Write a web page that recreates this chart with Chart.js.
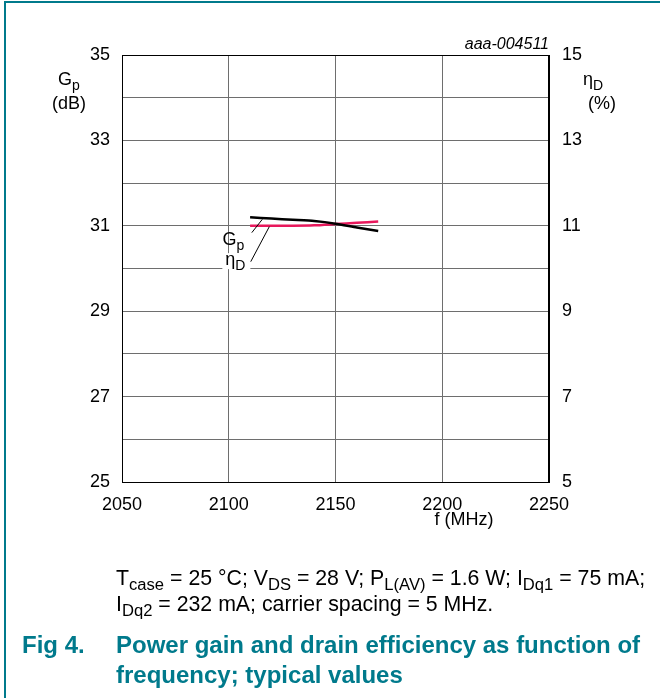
<!DOCTYPE html>
<html>
<head>
<meta charset="utf-8">
<script src="https://cdn.jsdelivr.net/npm/chart.js@4/dist/chart.umd.min.js"></script>
<style>
  body { margin: 0; background: #fff; font-family: 'Liberation Sans', Arial, sans-serif; }
  #wrap { position: relative; width: 660px; height: 698px; overflow: hidden; }
  #frame { position: absolute; left: 4px; top: 1px; width: 700px; height: 700px;
           border-left: 2px solid #007a8c; border-top: 2px solid #007a8c; }
  canvas { position: absolute; left: 0; top: 0; }
  .cap { position: absolute; left: 116px; font-size: 21.3px; line-height: 26px; color: #000; white-space: nowrap; }
  .cap sub { font-size: 0.78em; vertical-align: baseline; position: relative; top: 0.3em; line-height: 0; }
  .fig { position: absolute; font-size: 24px; line-height: 30px; font-weight: bold; color: #007a8c; white-space: nowrap; }
</style>
</head>
<body>
<div id="wrap">
  <div id="frame"></div>
  <canvas id="chart" width="660" height="698"></canvas>
  <div class="cap" style="top:565px">T<sub>case</sub> = 25 °C; V<sub>DS</sub> = 28 V; P<sub>L(AV)</sub> = 1.6 W; I<sub>Dq1</sub> = 75 mA;<br>I<sub>Dq2</sub> = 232 mA; carrier spacing = 5 MHz.</div>
  <div class="fig" style="left:22px; top:630px">Fig 4.</div>
  <div class="fig" style="left:116px; top:630px">Power gain and drain efficiency as function of<br>frequency; typical values</div>
</div>
<script>
// frequency (MHz)
const freq = [2110, 2120, 2130, 2140, 2150, 2160, 2170];
// power gain Gp (dB), left axis
const gainDb = [31.2, 31.17, 31.14, 31.11, 31.05, 30.96, 30.88];
// drain efficiency ηD (%), right axis
const drainEff = [11.0, 11.0, 11.0, 11.01, 11.04, 11.07, 11.1];

const xTicks = [2050, 2100, 2150, 2200, 2250];
const gainTicks = [25, 27, 29, 31, 33, 35];
const effTicks = [5, 7, 9, 11, 13, 15];

const FONT = "'Liberation Sans', Arial, sans-serif";

// draw text pieces, some as subscripts; pieces = [[text, isSub], ...]
function drawSub(ctx, pieces, x, y, size, align) {
  const subSize = Math.round(size * 0.78);
  let total = 0;
  pieces.forEach(p => {
    ctx.font = (p[1] ? subSize : size) + 'px ' + FONT;
    total += ctx.measureText(p[0]).width;
  });
  let cx = x;
  if (align === 'center') cx = x - total / 2;
  if (align === 'right') cx = x - total;
  ctx.textAlign = 'left';
  ctx.textBaseline = 'alphabetic';
  pieces.forEach(p => {
    ctx.font = (p[1] ? subSize : size) + 'px ' + FONT;
    ctx.fillText(p[0], cx, p[1] ? y + size * 0.28 : y);
    cx += ctx.measureText(p[0]).width;
  });
  return total;
}

const extras = {
  id: 'extras',
  afterDraw(chart) {
    const ctx = chart.ctx;
    const a = chart.chartArea;
    const xs = chart.scales.x, ys = chart.scales.y;
    const px = v => xs.getPixelForValue(v);
    const py = v => ys.getPixelForValue(v);
    ctx.save();
    // plot frame
    ctx.strokeStyle = '#000';
    ctx.lineWidth = 1;
    ctx.strokeRect(a.left + 0.5, a.top + 0.5, a.right - a.left - 1, a.bottom - a.top);

    ctx.fillStyle = '#000';
    // axis titles
    drawSub(ctx, [['G', false], ['p', true]], 69, 85, 18, 'center');
    drawSub(ctx, [['(dB)', false]], 69, 109, 18, 'center');
    drawSub(ctx, [['η', false], ['D', true]], 593, 85, 18, 'center');
    drawSub(ctx, [['(%)', false]], 602, 109, 18, 'center');
    drawSub(ctx, [['f (MHz)', false]], 464, 525, 18, 'center');
    ctx.font = 'italic 16px ' + FONT;
    ctx.textAlign = 'right';
    ctx.fillText('aaa-004511', a.right, 49);

    // curve labels with leader lines
    ctx.fillStyle = '#fff';
    ctx.fillRect(px(2097), py(30.36), 28, 16);
    ctx.strokeStyle = '#000';
    ctx.lineWidth = 1;
    ctx.beginPath();
    ctx.moveTo(px(2115.7), py(31.15)); ctx.lineTo(px(2110.8), py(30.84));
    ctx.moveTo(px(2119), py(30.98)); ctx.lineTo(px(2110.3), py(30.16));
    ctx.stroke();
    ctx.fillStyle = '#000';
    drawSub(ctx, [['G', false], ['p', true]], px(2097.1), py(30.55), 18, 'left');
    drawSub(ctx, [['η', false], ['D', true]], px(2098.4), py(30.08), 18, 'left');
    ctx.restore();
  }
};

new Chart(document.getElementById('chart'), {
  type: 'line',
  data: {
    datasets: [{
      label: 'Gp',
      data: freq.map((f, i) => ({ x: f, y: gainDb[i] })),
      borderColor: '#000',
      borderWidth: 2.5,
      pointRadius: 0,
      tension: 0.2,
      yAxisID: 'y'
    }, {
      label: 'ηD',
      data: freq.map((f, i) => ({ x: f, y: drainEff[i] })),
      borderColor: '#e8185c',
      borderWidth: 2.5,
      pointRadius: 0,
      tension: 0.2,
      yAxisID: 'y2'
    }]
  },
  options: {
    responsive: false,
    animation: false,
    devicePixelRatio: 1,
    layout: { padding: { top: 55, left: 0, right: 0, bottom: 0 } },
    plugins: { legend: { display: false }, tooltip: { enabled: false } },
    scales: {
      x: {
        type: 'linear', min: 2050, max: 2250,
        afterFit: s => { s.height = 216; },
        afterBuildTicks: s => { s.ticks = xTicks.map(v => ({ value: v })); },
        grid: { color: '#6e6e6e', drawTicks: false },
        border: { color: '#000' },
        ticks: { color: '#000', padding: 12, maxRotation: 0, font: { family: FONT, size: 18 },
                 callback: v => String(v) }
      },
      y: {
        position: 'left', min: 25, max: 35,
        afterFit: s => { s.width = 122; },
        grid: { color: '#6e6e6e', drawTicks: false },
        border: { color: '#000' },
        ticks: {
          stepSize: 1, autoSkip: false, color: '#000', padding: 12,
          font: { family: FONT, size: 18 },
          callback: v => gainTicks.includes(v) ? v : ''
        }
      },
      y2: {
        position: 'right', min: 5, max: 15,
        afterFit: s => { s.width = 111; },
        grid: { drawOnChartArea: false, drawTicks: false },
        border: { color: '#000' },
        ticks: {
          stepSize: 1, autoSkip: false, color: '#000', padding: 13,
          font: { family: FONT, size: 18 },
          callback: v => effTicks.includes(v) ? v : ''
        }
      }
    }
  },
  plugins: [extras]
});
</script>
</body>
</html>
